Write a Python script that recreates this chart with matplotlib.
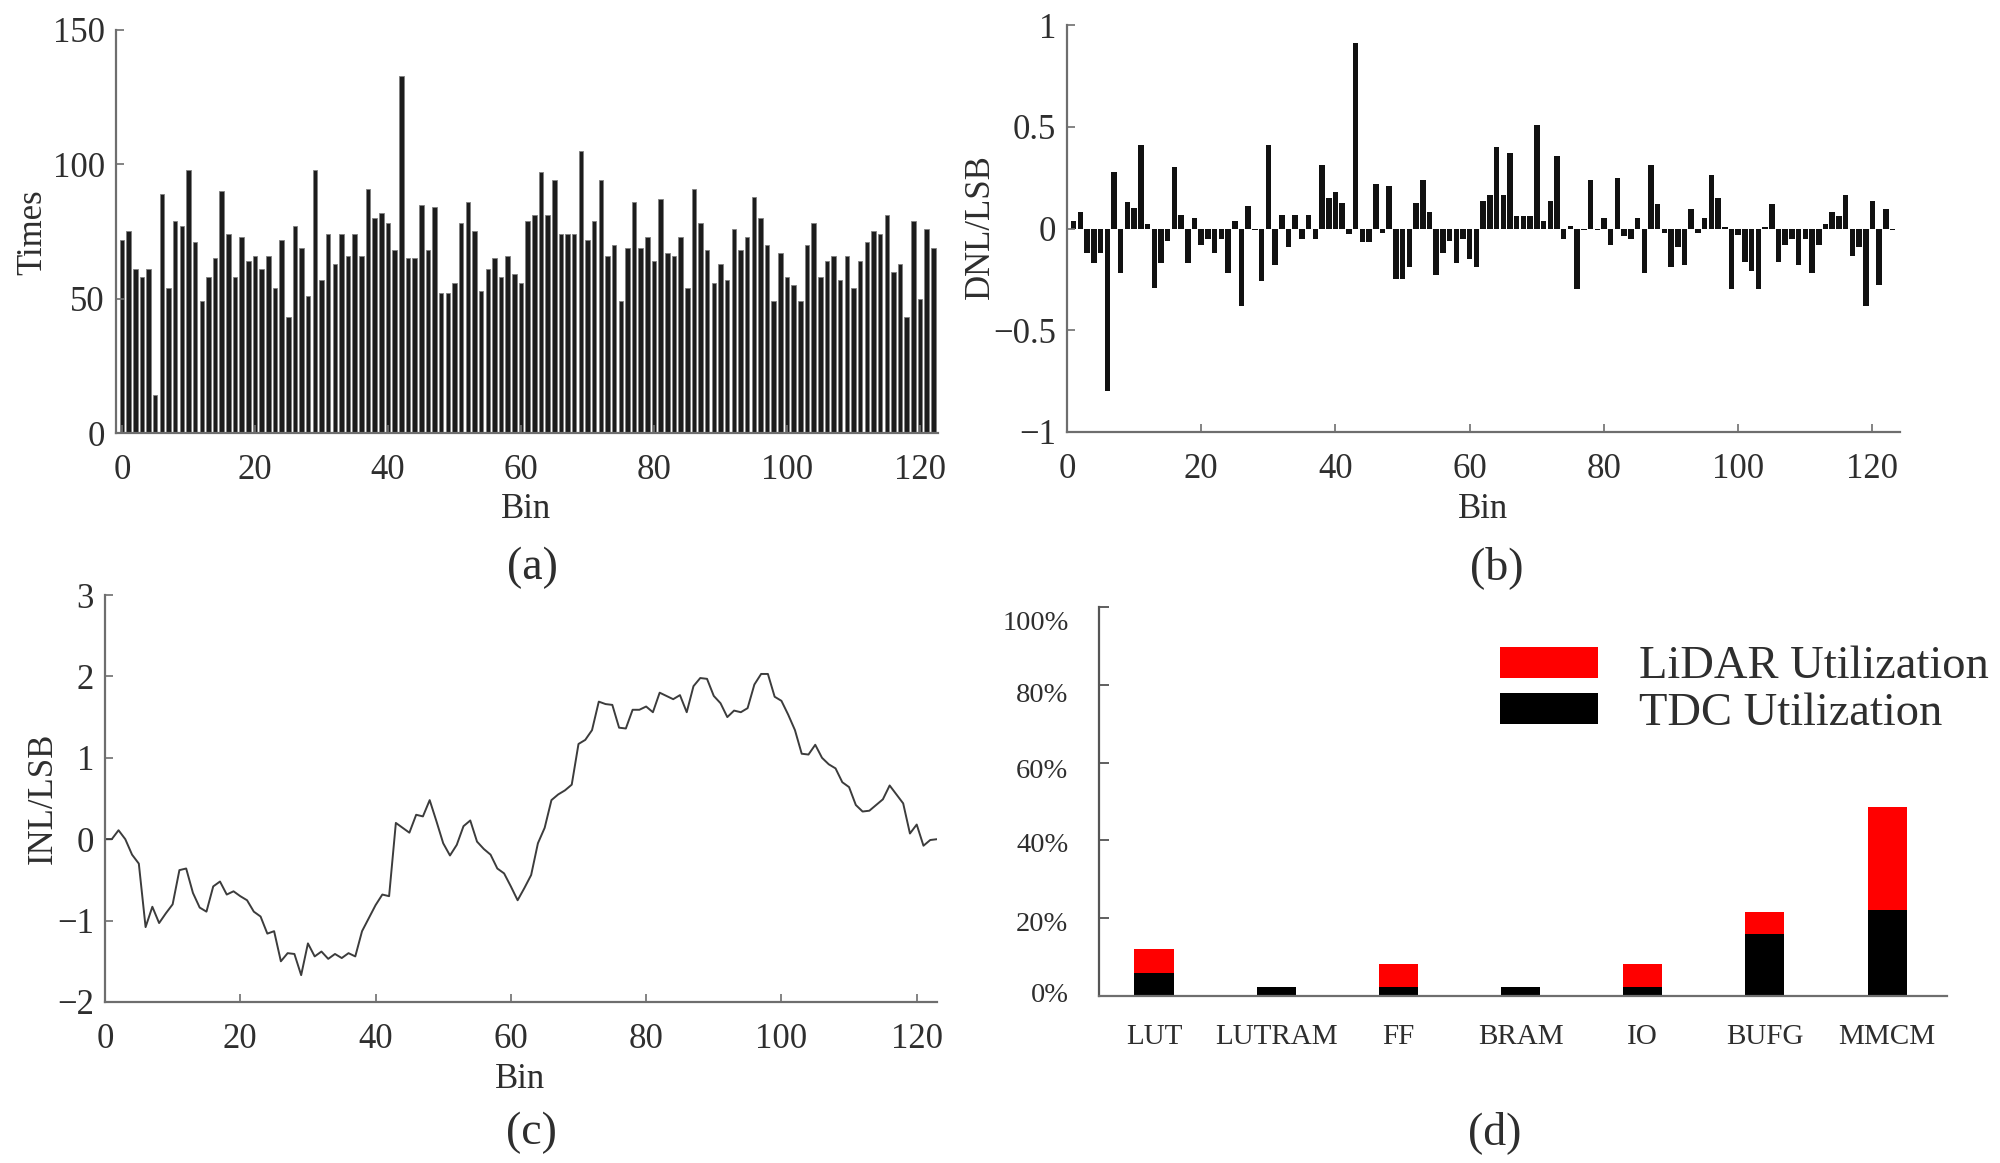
import numpy as np
import matplotlib
matplotlib.use("Agg")
import matplotlib.pyplot as plt
from matplotlib.transforms import ScaledTranslation

plt.rcParams['font.family'] = ['Liberation Serif', 'DejaVu Serif']

W, H = 2000, 1163

# (a) histogram
times = [72,75,61,58,61,14,89,54,79,77,98,71,49,58,65,90,74,58,73,64,66,61,66,54,72,43,77,69,51,98,
         57,74,63,74,66,74,66,91,80,82,78,68,133,65,65,85,68,84,52,52,56,78,86,75,53,61,65,58,66,59,
         56,79,81,97,81,94,74,74,74,105,72,79,94,66,70,49,69,86,69,73,64,87,67,66,73,54,91,78,68,56,
         63,57,76,68,73,88,80,70,49,67,58,55,49,70,78,58,64,66,57,66,54,64,71,75,74,81,60,63,43,79,50,76,69]

# (b) DNL, bins 1..123
dnl = [0.035,0.08,-0.12,-0.17,-0.12,-0.8,0.28,-0.22,0.13,0.1,0.41,0.02,-0.29,-0.17,-0.06,0.3,0.065,-0.17,0.05,-0.08,
       -0.05,-0.12,-0.05,-0.22,0.035,-0.38,0.11,-0.005,-0.26,0.41,-0.18,0.065,-0.09,0.065,-0.05,0.065,-0.05,0.31,0.15,0.18,
       0.125,-0.025,0.91,-0.065,-0.065,0.22,-0.02,0.21,-0.25,-0.25,-0.19,0.125,0.24,0.08,-0.23,-0.12,-0.06,-0.17,-0.05,-0.15,
       -0.19,0.135,0.165,0.4,0.165,0.37,0.06,0.06,0.06,0.51,0.035,0.135,0.355,-0.05,0.01,-0.295,-0.005,0.24,-0.005,0.05,
       -0.08,0.25,-0.035,-0.05,0.05,-0.22,0.31,0.12,-0.02,-0.19,-0.09,-0.18,0.095,-0.02,0.05,0.265,0.15,0.005,-0.295,-0.03,
       -0.165,-0.21,-0.295,0.005,0.12,-0.165,-0.08,-0.05,-0.18,-0.05,-0.22,-0.08,0.02,0.08,0.06,0.165,-0.135,-0.09,-0.38,0.135,
       -0.28,0.095,-0.005]

# (c) INL, bins 0..123
inl = [0,0,0.11,0.0,-0.19,-0.3,-1.08,-0.83,-1.03,-0.91,-0.8,-0.38,-0.36,-0.66,-0.84,-0.89,-0.58,-0.52,-0.68,-0.64,
       -0.7,-0.75,-0.89,-0.95,-1.16,-1.13,-1.5,-1.4,-1.41,-1.67,-1.28,-1.44,-1.38,-1.47,-1.41,-1.46,-1.4,-1.44,-1.13,-0.97,
       -0.81,-0.68,-0.7,0.2,0.14,0.08,0.3,0.28,0.48,0.22,-0.05,-0.2,-0.07,0.16,0.23,-0.03,-0.12,-0.19,-0.36,-0.42,
       -0.58,-0.75,-0.6,-0.44,-0.05,0.14,0.48,0.55,0.6,0.67,1.17,1.22,1.34,1.69,1.66,1.65,1.37,1.36,1.59,1.59,
       1.63,1.56,1.8,1.76,1.72,1.77,1.56,1.88,1.98,1.97,1.76,1.67,1.5,1.58,1.56,1.61,1.9,2.03,2.03,1.75,
       1.7,1.53,1.34,1.05,1.04,1.16,1.0,0.92,0.87,0.7,0.64,0.42,0.34,0.35,0.42,0.49,0.66,0.55,0.44,0.07,
       0.18,-0.08,-0.01,0]

# (d) utilisation
resources = ['LUT','LUTRAM','FF','BRAM','IO','BUFG','MMCM']
tdc_util = [6,2.3,2.2,2.3,2.2,16,22]
lidar_util = [6,0,6,0,6,5.5,26.5]

bin_ticks = [0,20,40,60,80,100,120]

TXT = '#2e2e2e'
AX = '#6e6e6e'
fig = plt.figure(figsize=(W/100, H/100), dpi=100, facecolor='white')

def axes_px(l, r, t, b):
    ax = fig.add_axes([l/W, 1-b/H, (r-l)/W, (b-t)/H])
    for s in ('top', 'right'):
        ax.spines[s].set_visible(False)
    for s in ('left', 'bottom'):
        ax.spines[s].set_color(AX)
        ax.spines[s].set_linewidth(1.6)
    ax.tick_params(direction='in', length=6, width=1.2, color=AX, labelsize=25, labelcolor=TXT, pad=8)
    ax.tick_params(axis='x', pad=15)
    return ax

def xlab(ax, s, x, y):
    ax.set_xlabel(s, fontsize=25, color=TXT, va='center', ha='center')
    ax.xaxis.set_label_coords(x/W, 1-y/H, transform=fig.transFigure)

def ylab(ax, s, x, y):
    ax.set_ylabel(s, fontsize=25, color=TXT, va='center', ha='center')
    ax.yaxis.set_label_coords(x/W, 1-y/H, transform=fig.transFigure)

def caption(s, x, y):
    fig.text(x/W, 1-y/H, s, fontsize=33, color=TXT, ha='center', va='center')

# (a)
ax = axes_px(116, 938, 30, 433)
ax.bar(np.arange(len(times)), times, width=0.68, color='#1c1c1c', edgecolor='#808080', linewidth=0.6)
ax.set_xlim(-0.9, 122.7); ax.set_ylim(0, 150)
ax.set_yticks([0,50,100,150]); ax.set_xticks(bin_ticks)
xlab(ax, 'Bin', 526, 509); ylab(ax, 'Times', 33, 232)
caption('(a)', 532, 568)

# (b)
ax = axes_px(1067, 1900, 25, 432)
ax.bar(np.arange(1, len(dnl)+1), dnl, width=0.82, color='#111111')
ax.set_xlim(0, 124.1); ax.set_ylim(-1, 1)
ax.set_yticks([-1,-0.5,0,0.5,1]); ax.set_yticklabels(['\u22121','\u22120.5','0','0.5','1'])
ax.set_xticks(bin_ticks)
xlab(ax, 'Bin', 1483, 509); ylab(ax, 'DNL/LSB', 980, 227)
caption('(b)', 1497, 568)

# (c)
ax = axes_px(105, 937, 595, 1002)
ax.plot(np.arange(len(inl)), inl, color='#3c3c3c', lw=1.4)
ax.set_xlim(0, 123); ax.set_ylim(-2, 3)
ax.set_yticks([-2,-1,0,1,2,3]); ax.set_yticklabels(['\u22122','\u22121','0','1','2','3'])
ax.set_xticks(bin_ticks)
xlab(ax, 'Bin', 520, 1079); ylab(ax, 'INL/LSB', 43, 798)
caption('(c)', 531, 1133)

# (d)
ax = axes_px(1099, 1947, 607, 996)
pos = np.arange(len(resources))
tdc = ax.bar(pos, tdc_util, width=0.32, color='black', label='TDC Utilization')
lid = ax.bar(pos, lidar_util, width=0.32, bottom=tdc_util, color='#ff0000', label='LiDAR Utilization')
ax.set_xlim(-0.45, 6.49); ax.set_ylim(0, 100)
yt = [0,20,40,60,80,100]
ax.set_yticks(yt); ax.set_yticklabels([f'{v}%' for v in yt])
ax.set_xticks(pos); ax.set_xticklabels(resources)
ax.tick_params(axis='x', length=0, labelsize=21, pad=20)
ax.tick_params(axis='y', labelsize=20.5, pad=22, length=7.5, color='#444444')
ax.spines['left'].set_color('#555555')
offs = [-3, 3, 2, 6, 8, 13]  # labels drift a little from their ticks in the reference
for lab, d in zip(ax.get_yticklabels(), offs):
    lab.set_transform(lab.get_transform() + ScaledTranslation(0, -d/100, fig.dpi_scale_trans))
ax.legend(handles=[lid, tdc], loc='upper left', bbox_to_anchor=(1500/W, 1-646/H),
          bbox_transform=fig.transFigure, frameon=False, fontsize=33.5, labelcolor=TXT,
          borderpad=0, borderaxespad=0, handlelength=2.11, handleheight=0.65,
          handletextpad=0.87, labelspacing=0.08)
caption('(d)', 1495, 1133)

fig.savefig('out.png', dpi=100, facecolor='white')
